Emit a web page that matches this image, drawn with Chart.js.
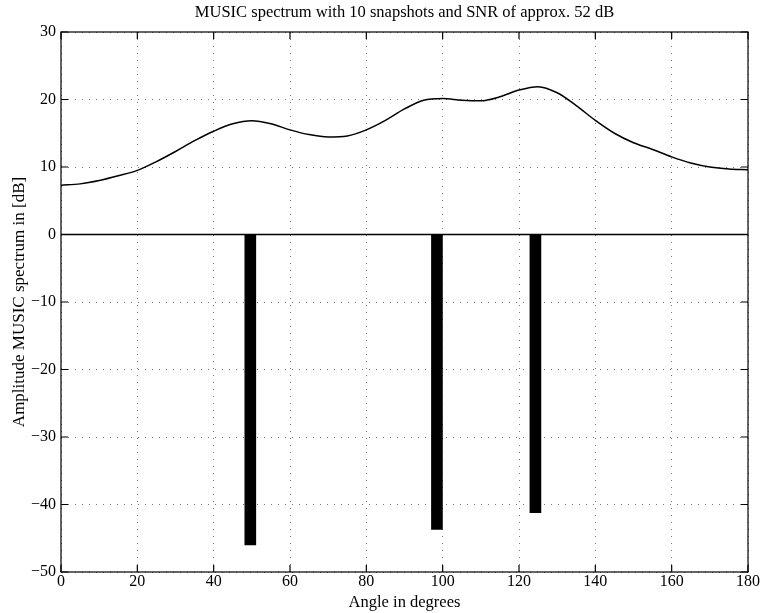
<!DOCTYPE html>
<html>
<head>
<meta charset="utf-8">
<script src="https://cdn.jsdelivr.net/npm/chart.js@4"></script>
<style>
  body { margin: 0; background: #fff; }
  canvas { display: block; }
</style>
</head>
<body>
<canvas id="music" width="760" height="613"></canvas>
<script>
// MUSIC spectrum, every 5 degrees
const angles = [0, 5, 10, 15, 20, 25, 30, 35, 40, 45, 50, 55, 60, 65, 70, 75, 80, 85, 90,
  95, 100, 105, 110, 115, 120, 125, 130, 135, 140, 145, 150, 155, 160, 165, 170, 175, 180];
const spectrum = [7.3, 7.5, 8.0, 8.7, 9.5, 10.8, 12.3, 13.9, 15.3, 16.4, 16.85, 16.4, 15.5,
  14.8, 14.45, 14.6, 15.5, 16.9, 18.6, 19.9, 20.15, 19.9, 19.8, 20.4, 21.4, 21.9, 21.0, 19.1,
  16.9, 15.0, 13.6, 12.6, 11.5, 10.6, 10.0, 9.7, 9.6];

// true directions (bars)
const doaAngles = [49.6, 98.5, 124.3];
const doaValues = [-46.0, -43.7, -41.2];

const xTicks = [0, 20, 40, 60, 80, 100, 120, 140, 160, 180];
const yTicks = [-50, -40, -30, -20, -10, 0, 10, 20, 30];

const TITLE = 'MUSIC spectrum with 10 snapshots and SNR of approx. 52 dB';
const FONT = "'Liberation Serif', 'DejaVu Serif', serif";
const minus = v => (v < 0 ? '\u2212' + Math.abs(v) : String(v));

// box + inward ticks like matlab, title centred over the axes
const frame = {
  id: 'frame',
  afterDraw(chart) {
    const { ctx, chartArea: a, scales } = chart;
    ctx.save();
    ctx.strokeStyle = '#000';
    ctx.lineWidth = 1.2;
    ctx.strokeRect(a.left, a.top, a.right - a.left, a.bottom - a.top);
    const len = 7;
    ctx.beginPath();
    xTicks.forEach(t => {
      const px = scales.x.getPixelForValue(t);
      ctx.moveTo(px, a.bottom); ctx.lineTo(px, a.bottom - len);
      ctx.moveTo(px, a.top); ctx.lineTo(px, a.top + len);
    });
    yTicks.forEach(t => {
      const py = scales.y.getPixelForValue(t);
      ctx.moveTo(a.left, py); ctx.lineTo(a.left + len, py);
      ctx.moveTo(a.right, py); ctx.lineTo(a.right - len, py);
    });
    ctx.stroke();

    ctx.fillStyle = '#000';
    ctx.font = `16.5px ${FONT}`;
    ctx.textAlign = 'center';
    ctx.textBaseline = 'middle';
    ctx.fillText(TITLE, (a.left + a.right) / 2, 13);
    ctx.restore();
  }
};

new Chart(document.getElementById('music'), {
  data: {
    datasets: [
      {
        type: 'line',
        data: [{ x: xTicks[0], y: 0 }, { x: xTicks[xTicks.length - 1], y: 0 }],
        borderColor: '#000',
        borderWidth: 1.5,
        pointRadius: 0
      },
      {
        type: 'bar',
        data: doaAngles.map((a, i) => ({ x: a, y: doaValues[i] })),
        backgroundColor: '#000',
        borderWidth: 0,
        barThickness: 11
      },
      {
        type: 'line',
        data: angles.map((a, i) => ({ x: a, y: spectrum[i] })),
        borderColor: '#000',
        borderWidth: 1.5,
        pointRadius: 0,
        cubicInterpolationMode: 'monotone'
      }
    ]
  },
  options: {
    responsive: false,
    animation: false,
    layout: { padding: { left: 0, right: 11, top: 32, bottom: 0 } },
    plugins: {
      legend: { display: false },
      tooltip: { enabled: false },
      title: { display: false }
    },
    scales: {
      x: {
        type: 'linear',
        min: 0, max: 180,
        offset: false,
        afterBuildTicks: s => { s.ticks = xTicks.map(v => ({ value: v })); },
        afterFit: s => { s.height = 41; },
        ticks: { color: '#000', font: { family: FONT, size: 16 }, padding: 0, maxRotation: 0 },
        grid: { color: '#777', lineWidth: 1, drawTicks: false, offset: false },
        border: { display: false, dash: [1, 6] },
        title: {
          display: true, text: 'Angle in degrees', color: '#000',
          font: { family: FONT, size: 16.5 }, padding: { top: 0, bottom: 0 }
        }
      },
      y: {
        min: -50, max: 30,
        afterBuildTicks: s => { s.ticks = yTicks.map(v => ({ value: v })); },
        afterFit: s => { s.width = 61; },
        ticks: { color: '#000', font: { family: FONT, size: 16 }, padding: 5, callback: minus },
        grid: { color: '#777', lineWidth: 1, drawTicks: false },
        border: { display: false, dash: [1, 6] },
        title: {
          display: true, text: 'Amplitude MUSIC spectrum in [dB]', color: '#000',
          font: { family: FONT, size: 17 }, padding: { top: 9, bottom: 0 }
        }
      }
    }
  },
  plugins: [frame]
});
</script>
</body>
</html>
